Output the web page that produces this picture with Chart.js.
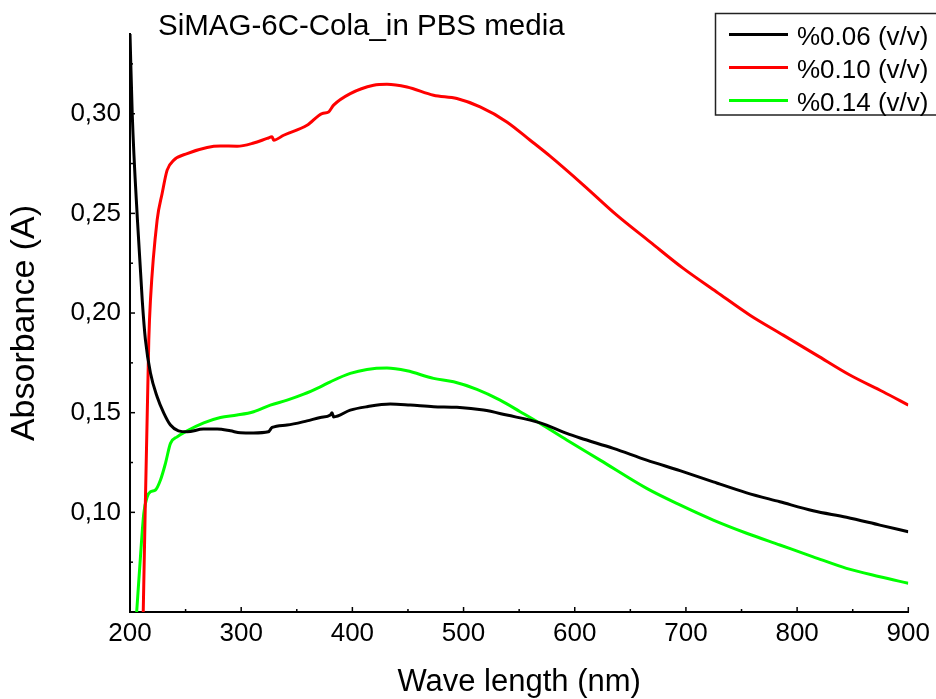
<!DOCTYPE html>
<html>
<head>
<meta charset="utf-8">
<script src="https://cdn.jsdelivr.net/npm/chart.js@4"></script>
<style>
  html, body { margin: 0; padding: 0; background: #fff; }
</style>
</head>
<body>
<canvas id="lineChart" width="936" height="699"></canvas>
<script>
const chartTitle = "SiMAG-6C-Cola_in PBS media";
const xTitle = "Wave length (nm)";
const yTitle = "Absorbance (A)";
const seriesLabels = ["%0.06 (v/v)", "%0.10 (v/v)", "%0.14 (v/v)"];
const seriesColors = ["#000000", "#ff0000", "#00ff00"];

const xTicks = [200, 300, 400, 500, 600, 700, 800, 900];
const yTicks = [0.10, 0.15, 0.20, 0.25, 0.30];
const yTickLabels = ["0,10", "0,15", "0,20", "0,25", "0,30"];

// %0.06 (black)
const nm006 = [200, 202, 206.7, 211, 213.9, 218.4, 224.4, 230.4, 236.4, 243.6, 251.4, 266, 278.4, 290.3, 299.3,
  311, 324.4, 327.8, 341.3, 359.2, 371.2, 380.2, 381.7, 383.1, 398.1, 413.1, 434.1, 452, 473, 494, 517.9,
  538.9, 568.9, 592.8, 604.8, 634.7, 664.7, 694.6, 724.6, 754.6, 784.5, 814.4, 844.4, 874.4, 900];
const abs006 = [0.340, 0.300, 0.2466, 0.2065, 0.1864, 0.1699, 0.158, 0.1498, 0.1438, 0.1409, 0.1404, 0.1418, 0.1418, 0.1409, 0.1399,
  0.1398, 0.1404, 0.1426, 0.1438, 0.1459, 0.1476, 0.1488, 0.1500, 0.1479, 0.1513, 0.153, 0.1543, 0.1538, 0.153, 0.1527, 0.1513,
  0.1488, 0.1449, 0.1396, 0.1373, 0.1321, 0.1262, 0.1209, 0.1153, 0.1098, 0.1053, 0.1008, 0.0975, 0.0936, 0.0903];

// %0.10 (red)
const nm010 = [211.9, 216.9, 218.4, 224.4, 228.9, 233.4, 239.4, 251.4, 269.4, 281.3, 296.3, 311.2, 323.3, 327.8, 329.2,
  338.2, 359.2, 372.7, 378.6, 383.1, 398.1, 419.1, 431.1, 449.1, 473, 494, 514.9, 538.9, 559.9, 577.8, 607.8,
  637.8, 667.7, 697.6, 727.6, 757.6, 787.5, 817.5, 847.4, 877.3, 900];
const abs010 = [0.05, 0.1864, 0.2065, 0.2466, 0.26, 0.2717, 0.2767, 0.28, 0.2831, 0.2838, 0.2837, 0.2853, 0.2876, 0.2884, 0.2867,
  0.2892, 0.2942, 0.3001, 0.3009, 0.3043, 0.3101, 0.3143, 0.3148, 0.3134, 0.3093, 0.3076, 0.3034, 0.2959, 0.2867, 0.2787, 0.2642,
  0.2491, 0.2357, 0.2224, 0.2106, 0.1989, 0.1889, 0.1789, 0.1689, 0.1605, 0.1538];

// %0.14 (green)
const nm014 = [206, 209.4, 212.4, 215.5, 218.4, 222.9, 227.4, 231.9, 236.4, 242.4, 251.4, 266.3, 281.3, 296.3, 311.2,
  326.2, 341.3, 356.2, 371.2, 380.2, 398.1, 413.1, 431.1, 449.1, 473, 491, 512, 532.9, 550.9, 568.9, 592.8,
  622.8, 664.7, 694.6, 724.6, 754.6, 784.5, 814.4, 844.4, 874.4, 900];
const abs014 = [0.05, 0.0777, 0.0995, 0.1078, 0.1103, 0.1112, 0.1162, 0.1246, 0.1346, 0.1379, 0.1409, 0.1449, 0.1476, 0.1488, 0.1505,
  0.1538, 0.1563, 0.1593, 0.163, 0.1655, 0.1697, 0.1717, 0.1724, 0.171, 0.1672, 0.1655, 0.1617, 0.1563, 0.1505, 0.1446, 0.1363,
  0.1262, 0.112, 0.1037, 0.0961, 0.0895, 0.0836, 0.0777, 0.0719, 0.0677, 0.0644];

const FONT = '"Liberation Sans", Arial, Helvetica, sans-serif';
Chart.defaults.font.family = FONT;
Chart.defaults.color = "#000";

function toPoints(xs, ys) {
  return xs.map((x, i) => ({ x: x, y: ys[i] }));
}

const allSeries = [toPoints(nm006, abs006), toPoints(nm010, abs010), toPoints(nm014, abs014)];

const datasets = allSeries.map((pts, i) => ({
  label: seriesLabels[i],
  data: pts,
  borderColor: seriesColors[i],
  backgroundColor: seriesColors[i],
  borderWidth: 3,
  pointRadius: 0,
  fill: false,
  cubicInterpolationMode: "monotone"
}));

// inward tick marks, title and boxed legend
const decorPlugin = {
  id: "decor",
  afterDraw(chart) {
    const ctx = chart.ctx;
    const xs = chart.scales.x;
    const ys = chart.scales.y;
    const area = chart.chartArea;
    ctx.save();
    ctx.strokeStyle = "#000";
    ctx.lineWidth = 1.5;
    for (let v = 200; v <= 900; v += 50) {
      const px = xs.getPixelForValue(v);
      const len = v % 100 === 0 ? 5 : 3;
      ctx.beginPath();
      ctx.moveTo(px, area.bottom);
      ctx.lineTo(px, area.bottom - len);
      ctx.stroke();
    }
    for (let k = 2; k <= 13; k++) {
      const v = k * 0.025;
      const py = ys.getPixelForValue(v);
      const len = k % 2 === 0 ? 5 : 3;
      ctx.beginPath();
      ctx.moveTo(area.left, py);
      ctx.lineTo(area.left + len, py);
      ctx.stroke();
    }

    // title
    ctx.fillStyle = "#000";
    ctx.font = "29.5px " + FONT;
    ctx.textAlign = "left";
    ctx.textBaseline = "alphabetic";
    ctx.fillText(chartTitle, 158, 35);

    // legend
    ctx.strokeStyle = "#222";
    ctx.lineWidth = 1.5;
    ctx.strokeRect(715.5, 13.5, 240, 101.5);
    ctx.font = "26px " + FONT;
    chart.data.datasets.forEach((ds, i) => {
      const y = 34.5 + i * 33;
      ctx.strokeStyle = ds.borderColor;
      ctx.lineWidth = 3;
      ctx.beginPath();
      ctx.moveTo(729, y);
      ctx.lineTo(788, y);
      ctx.stroke();
      ctx.fillStyle = "#000";
      ctx.fillText(ds.label, 797, y + 10);
    });
    ctx.restore();
  }
};

const ctx = document.getElementById("lineChart").getContext("2d");

new Chart(ctx, {
  type: "line",
  data: { datasets: datasets },
  options: {
    responsive: false,
    animation: false,
    layout: { padding: { top: 34, right: 27, left: 0, bottom: 0 } },
    plugins: {
      legend: { display: false },
      title: { display: false },
      tooltip: { enabled: false }
    },
    scales: {
      x: {
        type: "linear",
        min: 200,
        max: 900,
        afterBuildTicks: s => { s.ticks = xTicks.map(v => ({ value: v })); },
        afterFit: s => { s.height = 87; },
        ticks: { font: { size: 26 }, color: "#000", padding: 6, maxRotation: 0, autoSkip: false },
        grid: { display: false, drawTicks: false },
        border: { display: true, color: "#000", width: 2 },
        title: { display: true, text: xTitle, font: { size: 31, lineHeight: 1 }, color: "#000", padding: { top: 0, bottom: 1 } }
      },
      y: {
        type: "linear",
        min: 0.05,
        max: 0.34,
        afterBuildTicks: s => { s.ticks = yTicks.map(v => ({ value: v })); },
        afterFit: s => { s.width = 130; },
        ticks: {
          font: { size: 26 },
          color: "#000",
          padding: 9,
          autoSkip: false,
          callback: (value, index) => yTickLabels[index]
        },
        grid: { display: false, drawTicks: false },
        border: { display: true, color: "#000", width: 2 },
        title: { display: true, text: yTitle, font: { size: 34, lineHeight: 1 }, color: "#000", padding: { top: 8, bottom: 0 } }
      }
    }
  },
  plugins: [decorPlugin]
});
</script>
</body>
</html>
